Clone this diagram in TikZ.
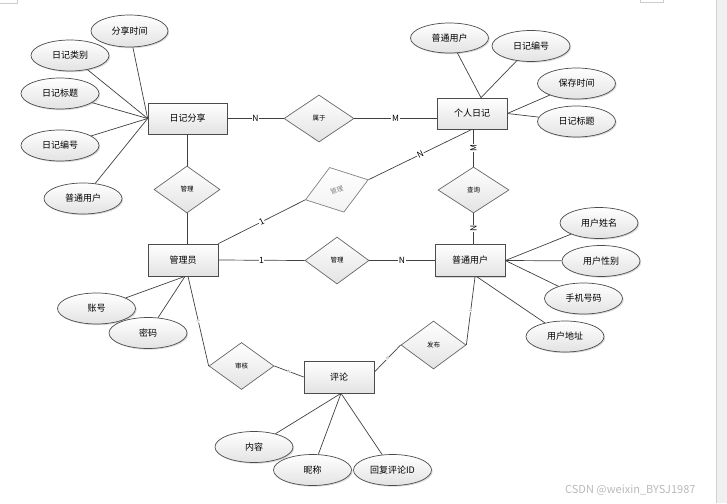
\documentclass[tikz,border=0pt]{standalone}
\usepackage{fontspec}
\newfontfamily\cjk{Noto Sans CJK SC}
\usetikzlibrary{shapes.geometric,shadows}
\begin{document}
\begin{tikzpicture}[x=1pt,y=-1pt,
  base/.style={font=\cjk\fontsize{9}{10}\selectfont, inner sep=0pt, draw=black!70, line width=0.7pt, top color=white, bottom color=gray!22},
  shd/.style={drop shadow={shadow xshift=1.2pt, shadow yshift=-1.2pt, opacity=0.3, fill=gray}},
  ent/.style={base, shd, rectangle, minimum width=70pt, minimum height=32pt},
  attr/.style={base, shd, ellipse, minimum width=78pt, minimum height=31pt},
  rel/.style={base, diamond, minimum width=66pt, minimum height=47pt, draw=black!60, font=\cjk\fontsize{6.5}{7}\selectfont},
  lk/.style={draw=black!75, line width=0.7pt},
  card/.style={font=\cjk\fontsize{8.5}{9}\selectfont, fill=white, inner sep=0.6pt},
  tinylab/.style={font=\cjk\fontsize{4}{4}\selectfont, text=gray, fill=white, inner sep=0.3pt, sloped}
]
\useasboundingbox (0,0) rectangle (727,503);
\fill[gray!12] (716,0) rectangle (727,503);
\draw[gray!35, line width=0.5pt] (716,0) -- (716,503);
\draw[gray!40, line width=0.5pt] (0,3) -- (17,3) -- (17,0);
\draw[gray!40, line width=0.5pt] (640,0) -- (640,2) -- (663,2) -- (663,0);

% entities
\node[ent, minimum width=79pt, minimum height=31pt] (share) at (187.5,118.5) {日记分享};
\node[ent, minimum height=31pt] (pd) at (472,113.5) {个人日记};
\node[ent] (mgr) at (183,260) {管理员};
\node[ent] (user) at (470,260.5) {普通用户};
\node[ent] (cmt) at (339,377) {评论};

% relationships
\node[rel] (r1) at (187,189.5) {管理};
\node[rel, minimum width=70pt] (sy) at (319,118.5) {属于};
\node[rel, rotate=17.7, draw=black!50, text=gray, bottom color=gray!10] (gl) at (336.8,189.8) {管理};
\node[rel, minimum width=71pt, minimum height=46pt] (cx) at (473.5,190) {查询};
\node[rel, minimum width=64pt] (r2) at (337,260.5) {管理};
\node[rel, minimum width=65pt, minimum height=48pt] (fb) at (433.5,345) {发布};
\node[rel, minimum width=65pt] (sh) at (241.5,366) {审核};

% attributes
\node[attr, minimum width=77pt, minimum height=32pt] (a1) at (129.5,31) {分享时间};
\node[attr] (a2) at (70,55.5) {日记类别};
\node[attr] (a3) at (60,93.5) {日记标题};
\node[attr] (a4) at (60,145.5) {日记编号};
\node[attr] (a5) at (83,198.5) {普通用户};
\node[attr, minimum height=30pt] (b1) at (449.5,38) {普通用户};
\node[attr] (b2) at (531,46) {日记编号};
\node[attr] (b3) at (576.5,83.5) {保存时间};
\node[attr] (b4) at (576.5,121.5) {日记标题};
\node[attr] (c1) at (599,223) {用户姓名};
\node[attr] (c2) at (601,261) {用户性别};
\node[attr] (c3) at (583.5,298.5) {手机号码};
\node[attr] (c4) at (565,336.5) {用户地址};
\node[attr] (d1) at (96.5,308.5) {账号};
\node[attr] (d2) at (148,333) {密码};
\node[attr] (e1) at (254,447) {内容};
\node[attr] (e2) at (312.5,470) {昵称};
\node[attr] (e3) at (392.5,470) {回复评论ID};

% attribute links
\foreach \a in {a1,a2,a3,a4,a5} \draw[lk] (\a) -- (share.west);
\coordinate (pdtop) at ([xshift=9pt]pd.north);
\foreach \a in {b1,b2} \draw[lk] (\a) -- (pdtop);
\foreach \a in {b3,b4} \draw[lk] (\a) -- (pd.east);
\foreach \a in {c1,c2,c3} \draw[lk] (\a) -- (user.east);
\coordinate (usrbot) at ([xshift=7pt]user.south);
\draw[lk] (c4) -- (usrbot);
\coordinate (mgrbot) at ([xshift=2pt]mgr.south);
\foreach \a in {d1,d2} \draw[lk] (\a) -- (mgrbot);
\coordinate (cmtbot) at ([xshift=2pt]cmt.south);
\foreach \a in {e1,e2,e3} \draw[lk] (\a) -- (cmtbot);

% relationship links
\draw[lk] (r1.north |- share.south) -- (r1.north);
\draw[lk] (r1.south) -- (r1.south |- mgr.north);
\draw[lk] (share.east) -- node[card]{N} (sy.west);
\draw[lk] (sy.east) -- node[card]{M} (sy.east -| pd.west);
\draw[lk] (mgr.north east) -- node[card, sloped]{1} (gl.west);
\draw[lk] (gl.east) -- node[card, sloped]{N} (pd.south);
\draw[lk] (cx.north |- pd.south) -- node[card, rotate=90]{M} (cx.north);
\draw[lk] (cx.south) -- node[card, rotate=90]{N} (cx.south |- user.north);
\draw[lk] (mgr.east) -- node[card]{1} (r2.west);
\draw[lk] (r2.east) -- node[card]{N} (r2.east -| user.west);
\coordinate (usrbot2) at ([xshift=5pt]user.south);
\draw[lk] (usrbot2) -- node[tinylab]{1} (fb.east);
\draw[lk] (fb.west) -- node[tinylab]{N} ([yshift=5pt]cmt.east);
\coordinate (mgrbot2) at ([xshift=5pt]mgr.south);
\draw[lk] (mgrbot2) -- node[tinylab]{1} (sh.west);
\draw[lk] (sh.east) -- node[tinylab]{N} (cmt.west);

\node[anchor=west, font=\cjk\fontsize{11}{12}\selectfont, text=gray!55, inner sep=0pt] (wm) at (565,490) {CSDN @weixin\_BYSJ1987};
\end{tikzpicture}
\end{document}
